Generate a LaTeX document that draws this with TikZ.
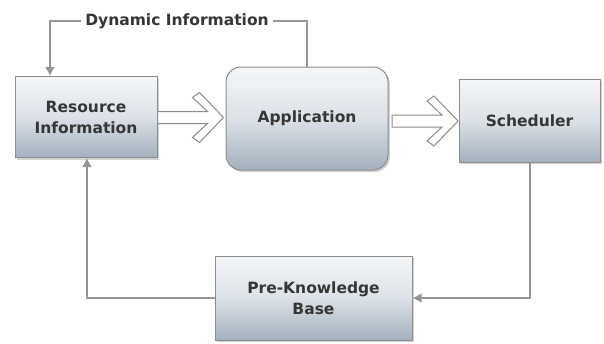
\documentclass[tikz,border=0pt]{standalone}
\usepackage{fontspec}
\setmainfont{DejaVu Sans}
\usetikzlibrary{shadows}
\definecolor{txt}{HTML}{363636}
\definecolor{edge}{HTML}{8C8C8C}
\definecolor{boxtop}{HTML}{F4F6F9}
\definecolor{boxbot}{HTML}{A3B0BD}
\definecolor{line}{HTML}{959595}
\tikzset{
  box/.style={draw=edge, line width=1pt, top color=boxtop, bottom color=boxbot,
    middle color=boxtop!70!boxbot,
    text=txt, font=\bfseries\fontsize{15.5}{21}\selectfont, align=center,
    inner sep=0pt,
    drop shadow={shadow xshift=2pt, shadow yshift=-2pt, opacity=0.35, fill=black!50}},
  conn/.style={draw=line, line width=1.6pt, -{Latex[length=9pt,width=10pt]}},
  lab/.style={fill=white, text=txt, font=\bfseries\fontsize{15.5}{21}\selectfont, inner xsep=4pt, inner ysep=1pt},
  hollow/.style={draw=edge, line width=1pt, fill=white, line join=miter}
}
\usetikzlibrary{arrows.meta}
\newcommand{\hollowarrow}[1]{%
  \begin{scope}[shift={(#1)}]
    \draw[hollow] (0,-6) -- (50,-6) -- (35,-20) -- (42,-25) -- (66,0) -- (42,25) -- (35,20) -- (50,6) -- (0,6) -- cycle;
  \end{scope}}
\begin{document}
\begin{tikzpicture}[x=1pt,y=-1pt]
\useasboundingbox (0,0) rectangle (604,343);
\node[box, minimum width=142pt, minimum height=81pt] (res) at (86,117) {Resource\\Information};
\node[box, rounded corners=15pt, minimum width=162pt, minimum height=103pt] (app) at (307,118.5) {Application};
\node[box, minimum width=141pt, minimum height=83pt] (sch) at (529.5,120.5) {Scheduler};
\node[box, minimum width=197pt, minimum height=84pt] (pkb) at (313.5,298) {Pre-Knowledge\\Base};
% dynamic information feedback
\coordinate (dtl) at (50,21);
\draw[conn] (app.north) |- (dtl) -- (dtl |- res.north);
\node[lab] (dyn) at (177,21) {Dynamic Information};
% hollow arrows
\coordinate (a1) at ([yshift=-0.5pt]res.east);
\coordinate (a2) at (392,121);
\hollowarrow{a1}
\hollowarrow{a2}
% scheduler to pre-knowledge base
\coordinate (scd) at (530,298);
\draw[conn] (scd |- sch.south) -- (scd) -- (pkb.east);
% pre-knowledge base to resource
\coordinate (pkl) at (87,298);
\draw[conn] (pkb.west) -- (pkl) -- (pkl |- res.south);
\end{tikzpicture}
\end{document}
